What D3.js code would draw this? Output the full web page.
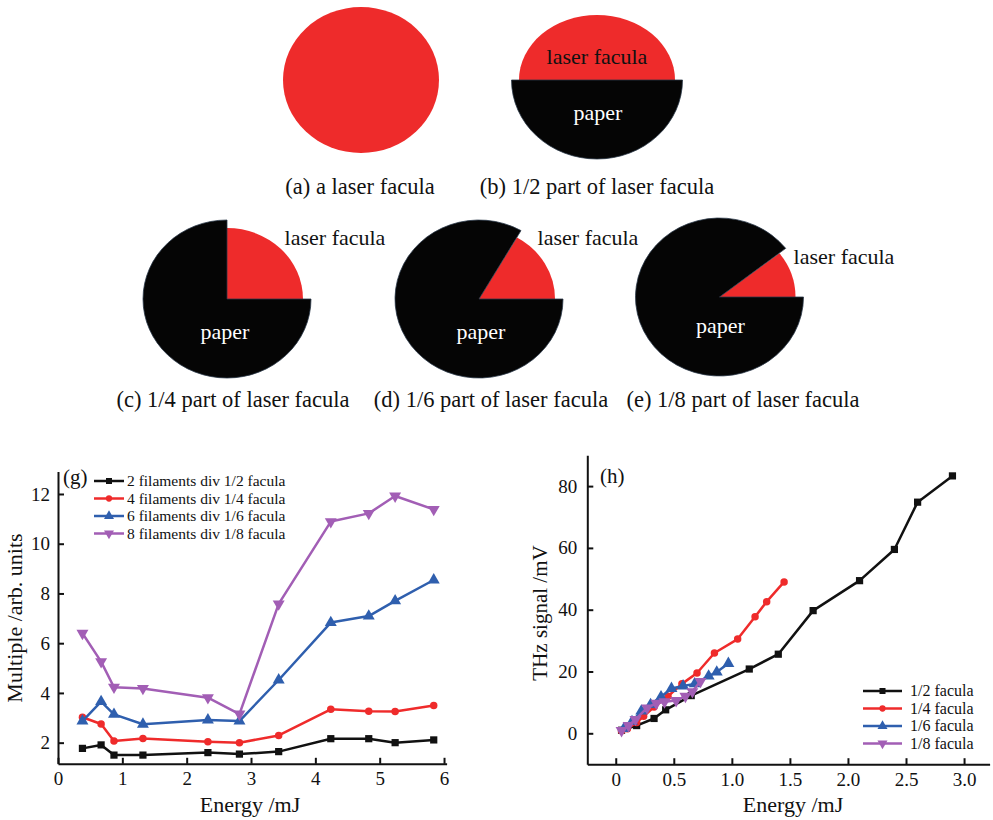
<html>

<head>
    <title>Laser facula</title>
    <meta charset="utf-8">
    <style>
        body { margin: 0; background: #fff; }
        svg { display: block; font-family: "Liberation Serif", "DejaVu Serif", serif; }
        svg text { font-family: "Liberation Serif", "DejaVu Serif", serif !important; fill: #111; }
        .axis path, .axis line { stroke: #111; stroke-width: 2px; }
        .axis text { font-size: 19px; fill: #111; }
        .series path.line { fill: none; stroke-width: 2.5px; stroke-linejoin: round; }
    </style>
</head>

<body>
    <svg width="993" height="820"></svg>
    <script src="https://d3js.org/d3.v7.min.js"></script>

    <script>
        // ---- data ----
        var topCaptions = ["(a) a laser facula", "(b) 1/2 part of laser facula"];
        var pieCaptions = ["(c) 1/4 part of laser facula", "(d) 1/6 part of laser facula", "(e) 1/8 part of laser facula"];
        var redAngles = [90, 60, 38];   // visible red sector, degrees

        var gEnergy = [0.38, 0.67, 0.87, 1.32, 2.33, 2.82, 3.43, 4.24, 4.83, 5.24, 5.84];
        var g2 = [1.77, 1.91, 1.50, 1.50, 1.60, 1.54, 1.64, 2.16, 2.16, 2.00, 2.11];
        var g4 = [3.02, 2.75, 2.07, 2.17, 2.04, 2.00, 2.29, 3.34, 3.26, 3.25, 3.49];
        var g6 = [2.87, 3.65, 3.14, 2.74, 2.91, 2.87, 4.52, 6.83, 7.09, 7.70, 8.54];
        var g8 = [6.40, 5.26, 4.23, 4.18, 3.81, 3.15, 7.58, 10.89, 11.22, 11.92, 11.38];
        var gNames = ["2 filaments div 1/2 facula", "4 filaments div 1/4 facula", "6 filaments div 1/6 facula", "8 filaments div 1/8 facula"];
        var gYTicks = [2, 4, 6, 8, 10, 12];
        var gXTicks = [0, 1, 2, 3, 4, 5, 6];

        var hX2 = [0.05, 0.18, 0.33, 0.43, 0.65, 1.15, 1.40, 1.70, 2.10, 2.40, 2.60, 2.90];
        var hY2 = [1.0, 2.5, 4.8, 7.6, 12.2, 20.8, 25.6, 39.7, 49.4, 59.5, 74.8, 83.3];
        var hX4 = [0.05, 0.10, 0.18, 0.24, 0.33, 0.45, 0.57, 0.70, 0.85, 1.05, 1.20, 1.30, 1.45];
        var hY4 = [0.8, 1.5, 3.5, 5.5, 8.5, 12.0, 16.0, 19.5, 26.0, 30.5, 37.7, 42.6, 49.0];
        var hX6 = [0.07, 0.14, 0.22, 0.30, 0.39, 0.48, 0.58, 0.68, 0.80, 0.87, 0.97];
        var hY6 = [1.5, 3.8, 7.2, 9.3, 11.8, 14.5, 15.3, 16.0, 18.5, 19.8, 22.6];
        var hX8 = [0.05, 0.11, 0.17, 0.27, 0.35, 0.42, 0.52, 0.60, 0.66, 0.73];
        var hY8 = [0.9, 2.5, 4.5, 8.2, 9.7, 10.2, 10.6, 12.0, 13.5, 16.8];
        var hNames = ["1/2 facula", "1/4 facula", "1/6 facula", "1/8 facula"];
        var hYTicks = [0, 20, 40, 60, 80];
        var hXTicks = [0, 0.5, 1.0, 1.5, 2.0, 2.5, 3.0];

        var colors = ["#111111", "#ef2b2b", "#2f5fae", "#a25eb5"];
        var RED = "#ee2b2b";
        var FONT = "'Liberation Serif', 'DejaVu Serif', serif";

        var svg = d3.select("svg");

        function label(parent, x, y, str, size, anchor) {
            return parent.append("text").attr("x", x).attr("y", y)
                .attr("text-anchor", anchor || "middle")
                .style("font-family", FONT)
                .style("font-size", size + "px")
                .text(str);
        }

        // ---- facula sketches ----
        var arc = d3.arc().innerRadius(0);
        var rad = Math.PI / 180;

        function ellipseSector(cx, cy, rx, ry, a0, a1, fill) {
            // d3.arc: 0 = 12 o'clock, clockwise; squash to an ellipse
            svg.append("path")
                .attr("transform", "translate(" + cx + "," + cy + ") scale(1," + (ry / rx) + ")")
                .attr("d", arc.outerRadius(rx).startAngle(a0 * rad).endAngle(a1 * rad)())
                .attr("fill", fill)
                .attr("stroke", fill === RED ? "none" : "#2a3848")
                .attr("stroke-width", 0.8);
        }

        // (a)
        svg.append("ellipse").attr("cx", 361).attr("cy", 80).attr("rx", 78).attr("ry", 73).attr("fill", RED);
        // (b)
        ellipseSector(597, 80, 78, 65, -90, 90, RED);
        ellipseSector(597, 80, 85.5, 79, 90, 270, "#050505");
        label(svg, 597, 64, "laser facula", 22);
        label(svg, 598, 120, "paper", 22).style("fill", "#fff");

        var topX = [360, 597];
        topCaptions.forEach(function (t, i) {
            label(svg, topX[i], 194, t, 22.5);
        });

        // (c) (d) (e)
        var pieCx = [227, 479, 719.5];
        var pieCy = [299, 299, 297];
        var labelX = [335, 588, 844];
        var labelY = [245, 245, 264];
        var paperX = [225, 481, 720.5];
        var paperY = [339, 339, 333];
        var capX = [233, 491, 743];

        redAngles.forEach(function (a, i) {
            ellipseSector(pieCx[i], pieCy[i], 76, 71, 90 - a, 90, RED);
            ellipseSector(pieCx[i], pieCy[i], 84, 79, 90, 450 - a, "#050505");
            label(svg, labelX[i], labelY[i], "laser facula", 22);
            label(svg, paperX[i], paperY[i], "paper", 22).style("fill", "#fff");
            label(svg, capX[i], 407, pieCaptions[i], 22.5);
        });

        // ---- shared plotting helpers ----
        var symbols = [d3.symbolSquare, d3.symbolCircle, d3.symbolTriangle, d3.symbolTriangle];
        var symSize = [52, 44, 62, 62];
        var symRot = [0, 0, 0, 180];

        function drawSeries(g, x, y, xs, ys, i) {
            var pts = xs.map(function (v, k) { return [v, ys[k]]; });
            var s = g.append("g").attr("class", "series");
            s.append("path").attr("class", "line")
                .attr("stroke", colors[i])
                .attr("d", d3.line().x(function (d) { return x(d[0]); }).y(function (d) { return y(d[1]); })(pts));
            s.selectAll("path.mark").data(pts).enter().append("path")
                .attr("class", "mark")
                .attr("fill", colors[i])
                .attr("transform", function (d) {
                    return "translate(" + x(d[0]) + "," + y(d[1]) + ") rotate(" + symRot[i] + ")";
                })
                .attr("d", d3.symbol().type(symbols[i]).size(symSize[i])());
        }

        function legend(g, names, x0, x1, ys, tx, size) {
            names.forEach(function (n, i) {
                g.append("line").attr("x1", x0).attr("x2", x1).attr("y1", ys[i]).attr("y2", ys[i])
                    .attr("stroke", colors[i]).attr("stroke-width", 2.5);
                g.append("path")
                    .attr("transform", "translate(" + ((x0 + x1) / 2) + "," + ys[i] + ") rotate(" + symRot[i] + ")")
                    .attr("d", d3.symbol().type(symbols[i]).size(symSize[i] * 0.7)())
                    .attr("fill", colors[i]);
                label(g, tx, ys[i] + 5, n, size, "start");
            });
        }

        function styleAxis(sel) {
            sel.attr("font-family", null).attr("font-size", null);
            sel.select(".domain").attr("fill", "none");
            sel.selectAll("text").style("font-family", FONT).style("font-size", "19px");
        }

        // ---- chart (g) ----
        var gx = d3.scaleLinear().domain([0, 6.04]).range([58, 446.6]);
        var gy = d3.scaleLinear().domain([1.15, 12.9]).range([763.8, 471.6]);
        var cg = svg.append("g");

        cg.append("g").attr("class", "axis").attr("transform", "translate(0," + gy(1.15) + ")")
            .call(d3.axisBottom(gx).tickValues(gXTicks).tickSizeInner(-6).tickSizeOuter(0).tickPadding(8).tickFormat(d3.format("d")))
            .call(styleAxis);
        cg.append("g").attr("class", "axis").attr("transform", "translate(" + gx(0) + ",0)")
            .call(d3.axisLeft(gy).tickValues(gYTicks).tickSizeInner(-6).tickSizeOuter(0).tickPadding(8).tickFormat(d3.format("d")))
            .call(styleAxis);

        [g2, g4, g6, g8].forEach(function (ys, i) { drawSeries(cg, gx, gy, gEnergy, ys, i); });

        label(cg, 63, 484, "(g)", 21, "start");
        legend(cg, gNames, 94, 124, [481, 498.5, 516, 533.5], 127, 15.5);

        label(cg, 250, 812, "Energy /mJ", 22);
        label(cg, 0, 0, "Multiple /arb. units", 22).attr("transform", "translate(22,618) rotate(-90)");

        // ---- chart (h) ----
        var hx = d3.scaleLinear().domain([-0.245, 3.22]).range([587.3, 989.6]);
        var hy = d3.scaleLinear().domain([-10, 90]).range([764.2, 455.2]);
        var ch = svg.append("g");

        ch.append("g").attr("class", "axis").attr("transform", "translate(0," + hy(-10) + ")")
            .call(d3.axisBottom(hx).tickValues(hXTicks).tickSizeInner(-6).tickSizeOuter(0).tickPadding(8)
                .tickFormat(function (d) { return d === 0 ? "0" : d3.format(".1f")(d); }))
            .call(styleAxis);
        ch.append("g").attr("class", "axis").attr("transform", "translate(" + hx(-0.245) + ",0)")
            .call(d3.axisLeft(hy).tickValues(hYTicks).tickSizeInner(-6).tickSizeOuter(0).tickPadding(10).tickFormat(d3.format("d")))
            .call(styleAxis);

        [[hX2, hY2], [hX4, hY4], [hX6, hY6], [hX8, hY8]].forEach(function (s, i) {
            drawSeries(ch, hx, hy, s[0], s[1], i);
        });

        label(ch, 600, 483, "(h)", 21, "start");
        legend(ch, hNames, 863, 902, [691, 708.5, 726, 743.5], 910, 16);

        label(ch, 793, 812, "Energy /mJ", 22);
        label(ch, 0, 0, "THz signal /mV", 21).attr("transform", "translate(547,613) rotate(-90)");
    </script>

</body>

</html>
